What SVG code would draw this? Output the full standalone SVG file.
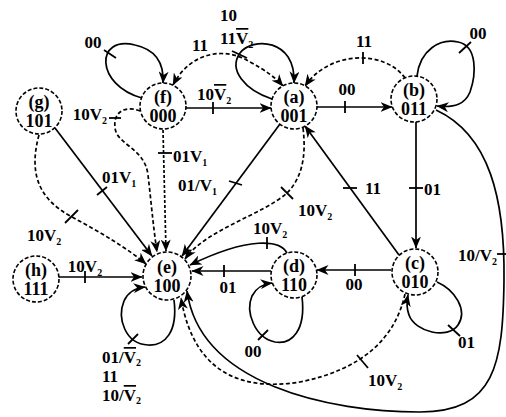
<svg xmlns="http://www.w3.org/2000/svg" width="506" height="417" viewBox="0 0 506 417">
<style>
.node{fill:#fff;stroke:#000;stroke-width:1.6;stroke-dasharray:4,2}
.nt{font-family:"Liberation Serif","Times New Roman",serif;font-size:18px;font-weight:bold;text-anchor:middle;fill:#000}
.e{fill:none;stroke:#000;stroke-width:1.7;marker-end:url(#ah)}
.d{stroke-dasharray:4,2.5}
.dd{stroke-dasharray:3,2}
.both{marker-start:url(#ahs)}
.tk{stroke:#000;stroke-width:1.8;fill:none}
.lb{font-family:"Liberation Serif","Times New Roman",serif;font-size:17px;font-weight:bold;fill:#000}
.m{text-anchor:middle}
.en{text-anchor:end}
.sb{font-size:10px}
.ov{text-decoration:overline}
</style>
<defs>
<marker id="ah" viewBox="0 0 12 10" refX="11.5" refY="5" markerWidth="12" markerHeight="10" markerUnits="userSpaceOnUse" orient="auto">
<path d="M0,0 L12,5 L0,10 L3.5,5 z" fill="#000"/>
</marker>
<marker id="ahs" viewBox="0 0 12 10" refX="11.5" refY="5" markerWidth="12" markerHeight="10" markerUnits="userSpaceOnUse" orient="auto-start-reverse">
<path d="M0,0 L12,5 L0,10 L3.5,5 z" fill="#000"/>
</marker>
</defs>

<g id="connectors">
<path class="e" d="M142,98 C95,85 95,35 135,45 C158,50 164,65 163,83"/>
<line class="tk" x1="104" y1="50" x2="116" y2="58"/>
<path class="e d both" d="M173,85 C190,52 225,46 250,62 C265,70 276,78 283,86"/>
<path class="e" d="M272,99 C245,90 228,70 240,53 C252,37 296,38 294,83"/>
<line class="tk" x1="232" y1="51" x2="247" y2="58"/>
<path class="e" d="M186,108 L271,108"/>
<line class="tk" x1="213" y1="102" x2="213" y2="114"/>
<path class="e" d="M317,107 L392,107"/>
<line class="tk" x1="345" y1="101" x2="345" y2="113"/>
<path class="e d" d="M405,78 C385,50 330,50 305,86"/>
<line class="tk" x1="363" y1="52" x2="363" y2="64"/>
<path class="e" d="M417,76 C420,50 440,38 458,42 C478,46 476,75 470,92 C465,104 455,108 437,106"/>
<line class="tk" x1="459" y1="53" x2="471" y2="42"/>
<path class="e" d="M416,122 L416,248"/>
<line class="tk" x1="409" y1="188" x2="423" y2="188"/>
<path class="e" d="M399,255 L305,126"/>
<line class="tk" x1="343" y1="188" x2="357" y2="188"/>
<path class="e" d="M436,110 C490,135 505,200 504,280 C503,365 495,412 420,412 C330,412 200,385 187,291"/>
<line class="tk" x1="497" y1="254" x2="510" y2="254"/>
<path class="e d" d="M405,294 C395,340 360,370 300,382 C250,390 195,380 181,298"/>
<line class="tk" x1="357" y1="355" x2="368" y2="368"/>
<path class="e" d="M391,270 L317,270"/>
<line class="tk" x1="355" y1="264" x2="355" y2="276"/>
<path class="e" d="M271,271 L192,271"/>
<line class="tk" x1="224" y1="265" x2="224" y2="277"/>
<path class="e" d="M287,253 C280,240 250,236 190,265"/>
<line class="tk" x1="267" y1="237" x2="267" y2="249"/>
<path class="e" d="M302,297 C306,330 292,345 275,342 C255,338 245,312 252,296 C256,288 262,284 272,283"/>
<line class="tk" x1="258" y1="340" x2="268" y2="330"/>
<path class="e" d="M437,282 C455,290 468,310 458,325 C448,340 415,332 409,315 C406,307 407,300 408,295"/>
<line class="tk" x1="448" y1="325" x2="460" y2="336"/>
<path class="e" d="M174,300 C178,332 165,346 148,345 C125,344 117,318 124,301 C128,292 135,288 145,287"/>
<line class="tk" x1="128" y1="344" x2="138" y2="334"/>
<path class="e" d="M59,277 L142,277"/>
<line class="tk" x1="85" y1="271" x2="85" y2="283"/>
<path class="e" d="M55,128 L152,256"/>
<line class="tk" x1="97" y1="195" x2="107" y2="187"/>
<path class="e d" d="M39,135 C28,175 40,200 72,217 C100,232 130,250 146,264"/>
<line class="tk" x1="65" y1="223" x2="78" y2="210"/>
<path class="e d" d="M140,111 C125,105 113,112 115,128 C117,145 145,148 148,175 C151,200 153,225 157,252"/>
<line class="tk" x1="109" y1="118" x2="121" y2="118"/>
<path class="e dd" d="M163,130 L166,251"/>
<line class="tk" x1="158" y1="153" x2="172" y2="153"/>
<path class="e" d="M280,124 L182,256"/>
<line class="tk" x1="229" y1="181" x2="242" y2="185"/>
<path class="e d" d="M303,128 C307,160 300,180 287,193 C262,215 205,230 185,259"/>
<line class="tk" x1="281" y1="187" x2="293" y2="199"/>
</g>

<g id="edge-labels">
<text class="lb m" x="93" y="48">00</text>
<text class="lb m" x="200" y="51">11</text>
<text class="lb" x="220" y="21">10</text>
<text class="lb" x="220" y="44">11<tspan class="ov">V</tspan><tspan class="sb" dy="4">2</tspan></text>
<text class="lb" x="197" y="100">10<tspan class="ov">V</tspan><tspan class="sb" dy="4">2</tspan></text>
<text class="lb m" x="347" y="95">00</text>
<text class="lb m" x="364" y="47">11</text>
<text class="lb m" x="478" y="39">00</text>
<text class="lb" x="424" y="195">01</text>
<text class="lb" x="365" y="194">11</text>
<text class="lb en" x="497" y="261">10/V<tspan class="sb" dy="4">2</tspan></text>
<text class="lb" x="368" y="386">10V<tspan class="sb" dy="4">2</tspan></text>
<text class="lb m" x="354" y="290">00</text>
<text class="lb m" x="228" y="293">01</text>
<text class="lb" x="253" y="234">10V<tspan class="sb" dy="4">2</tspan></text>
<text class="lb m" x="253" y="357">00</text>
<text class="lb" x="458" y="348">01</text>
<text class="lb" x="102" y="363">01/<tspan class="ov">V</tspan><tspan class="sb" dy="3">2</tspan></text>
<text class="lb" x="102" y="382">11</text>
<text class="lb" x="102" y="401">10/<tspan class="ov">V</tspan><tspan class="sb" dy="3">2</tspan></text>
<text class="lb m" x="85" y="272">10V<tspan class="sb" dy="4">2</tspan></text>
<text class="lb" x="102" y="183">01V<tspan class="sb" dy="4">1</tspan></text>
<text class="lb" x="27" y="241">10V<tspan class="sb" dy="4">2</tspan></text>
<text class="lb en" x="107" y="120">10V<tspan class="sb" dy="4">2</tspan></text>
<text class="lb" x="173" y="162">01V<tspan class="sb" dy="4">1</tspan></text>
<text class="lb" x="178" y="191">01/V<tspan class="sb" dy="4">1</tspan></text>
<text class="lb" x="298" y="216">10V<tspan class="sb" dy="4">2</tspan></text>
</g>

<g id="node-f"><circle class="node" cx="163" cy="106" r="23"/><text class="nt" x="163" y="103">(f)</text><text class="nt" x="163" y="122">000</text></g>
<g id="node-a"><circle class="node" cx="294" cy="106" r="23"/><text class="nt" x="294" y="103">(a)</text><text class="nt" x="294" y="122">001</text></g>
<g id="node-b"><circle class="node" cx="414" cy="99" r="23"/><text class="nt" x="414" y="96">(b)</text><text class="nt" x="414" y="115">011</text></g>
<g id="node-g"><circle class="node" cx="39" cy="111" r="23"/><text class="nt" x="39" y="108">(g)</text><text class="nt" x="39" y="127">101</text></g>
<g id="node-h"><circle class="node" cx="36" cy="279" r="23"/><text class="nt" x="36" y="276">(h)</text><text class="nt" x="36" y="295">111</text></g>
<g id="node-e"><circle class="node" cx="167" cy="276" r="24"/><text class="nt" x="167" y="273">(e)</text><text class="nt" x="167" y="292">100</text></g>
<g id="node-d"><circle class="node" cx="294" cy="275" r="23"/><text class="nt" x="294" y="272">(d)</text><text class="nt" x="294" y="291">110</text></g>
<g id="node-c"><circle class="node" cx="415" cy="272" r="23"/><text class="nt" x="415" y="269">(c)</text><text class="nt" x="415" y="288">010</text></g>
</svg>
